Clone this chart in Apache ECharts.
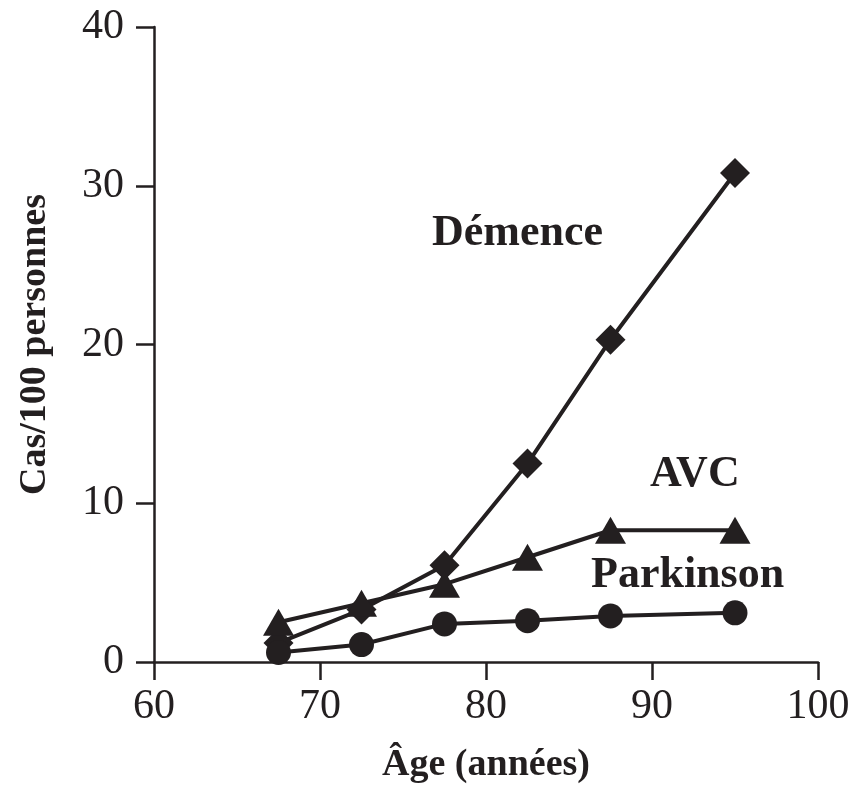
<!DOCTYPE html>
<html><head><meta charset="utf-8">
<script src="https://cdn.jsdelivr.net/npm/echarts@6/dist/echarts.min.js"></script>
<style>html,body{margin:0;padding:0;background:#fff}#c{width:857px;height:787px}</style>
</head><body><div id="c"></div>
<script>
const ages = [67.5, 72.5, 77.5, 82.5, 87.5, 95];
const demence = [1.2, 3.3, 6.1, 12.5, 20.3, 30.8];
const avc = [2.5, 3.7, 4.9, 6.6, 8.3, 8.3];
const parkinson = [0.6, 1.1, 2.4, 2.6, 2.9, 3.1];
const xTicks = [60, 70, 80, 90, 100];
const yTicks = [0, 10, 20, 30, 40];
const seriesNames = ['Démence', 'AVC', 'Parkinson'];

const ink = '#231f20';
const font = '"Liberation Serif", "DejaVu Serif", serif';
const pair = (xs, ys) => xs.map((x, i) => [x, ys[i]]);

const chart = echarts.init(document.getElementById('c'), null, {renderer: 'canvas'});
const mkSeries = (name, data, symbol, size) => ({
  name, type: 'line', data, symbol, symbolSize: size, showSymbol: true,
  lineStyle: {color: ink, width: 4}, itemStyle: {color: ink},
  z: 3, animation: false
});
chart.setOption({
  animation: false,
  grid: {left: 154, right: 39, top: 27, bottom: 125, outerBoundsMode: 'none', containLabel: false},
  xAxis: {
    type: 'value', min: xTicks[0], max: xTicks[xTicks.length - 1], interval: 10,
    name: 'Âge (années)', nameLocation: 'middle', nameGap: 84,
    nameTextStyle: {fontFamily: font, fontWeight: 'bold', fontSize: 38, color: ink},
    axisLine: {lineStyle: {color: ink, width: 2.5}},
    axisTick: {show: true, inside: false, length: 18, lineStyle: {color: ink, width: 2.5}},
    axisLabel: {fontFamily: font, fontSize: 42, color: ink, margin: 24},
    splitLine: {show: false}
  },
  yAxis: {
    type: 'value', min: yTicks[0], max: yTicks[yTicks.length - 1], interval: 10,
    name: 'Cas/100 personnes', nameLocation: 'middle', nameGap: 100, nameRotate: 90,
    nameTextStyle: {fontFamily: font, fontWeight: 'bold', fontSize: 38, color: ink},
    axisLine: {show: true, lineStyle: {color: ink, width: 2.5}},
    axisTick: {show: true, inside: false, length: 18, lineStyle: {color: ink, width: 2.5}},
    axisLabel: {fontFamily: font, fontSize: 42, color: ink, margin: 30},
    splitLine: {show: false}
  },
  series: [
    mkSeries(seriesNames[0], pair(ages, demence), 'diamond', 30),
    mkSeries(seriesNames[1], pair(ages, avc), 'triangle', [31, 27]),
    mkSeries(seriesNames[2], pair(ages, parkinson), 'circle', 25)
  ],
  graphic: [
    {type: 'text', x: 432, y: 234, style: {text: seriesNames[0], font: 'bold 44px ' + font, fill: ink, verticalAlign: 'middle'}},
    {type: 'text', x: 650, y: 475, style: {text: seriesNames[1], font: 'bold 44px ' + font, fill: ink, verticalAlign: 'middle'}},
    {type: 'text', x: 591, y: 576, style: {text: seriesNames[2], font: 'bold 44px ' + font, fill: ink, verticalAlign: 'middle'}}
  ]
});
</script></body></html>
